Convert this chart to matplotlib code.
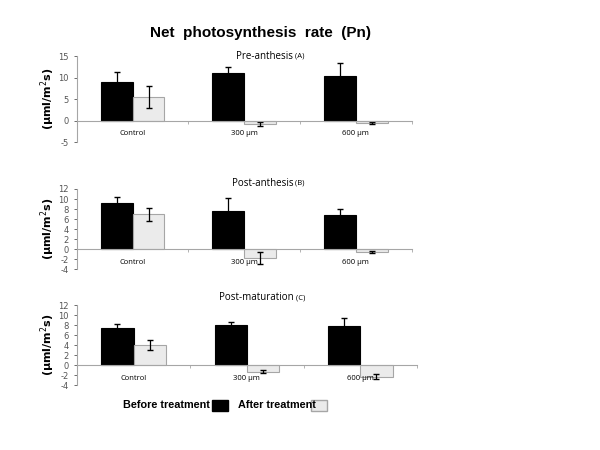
import matplotlib.pyplot as plt
import numpy as np

plt.rcParams['axes.unicode_minus'] = False

# données
categories = ["Control", "300 µm", "600 µm"]
stages = ["Pre-anthesis", "Post-anthesis", "Post-maturation"]
stage_tags = ["(A)", "(B)", "(C)"]

before_a = [9.0, 11.2, 10.4]
before_a_err = [2.3, 1.4, 3.0]
after_a = [5.5, -0.7, -0.6]
after_a_err = [2.5, 0.5, 0.2]

before_b = [9.2, 7.6, 6.8]
before_b_err = [1.3, 2.6, 1.2]
after_b = [7.0, -1.7, -0.6]
after_b_err = [1.3, 1.2, 0.2]

before_c = [7.4, 8.0, 7.8]
before_c_err = [0.8, 0.6, 1.6]
after_c = [4.0, -1.3, -2.3]
after_c_err = [1.0, 0.3, 0.5]

y_ticks_a = [-5, 0, 5, 10, 15]
y_ticks_bc = [-4, -2, 0, 2, 4, 6, 8, 10, 12]

fig = plt.figure(figsize=(6, 4.5), dpi=100)
fig.text(0.435, 0.927, "Net  photosynthesis  rate  (Pn)", ha="center", va="center",
         fontsize=11, fontweight="bold", family="Liberation Sans")

panels = [
    ([0.128, 0.684, 0.558, 0.191], before_a, before_a_err, after_a, after_a_err, y_ticks_a),
    ([0.128, 0.402, 0.558, 0.178], before_b, before_b_err, after_b, after_b_err, y_ticks_bc),
    ([0.128, 0.144, 0.567, 0.178], before_c, before_c_err, after_c, after_c_err, y_ticks_bc),
]
title_offsets = [0.0, 0.07, 0.09]

x = np.arange(len(categories))
w = 0.285
grey = "#a6a6a6"

for i, (pos, bef, bef_err, aft, aft_err, yt) in enumerate(panels):
    ax = fig.add_axes(pos)
    ax.bar(x - w / 2, bef, w, color="black", edgecolor="black", linewidth=0.8)
    ax.bar(x + w / 2, aft, w, color="#ebebeb", edgecolor=grey, linewidth=0.8)
    ax.errorbar(x - w / 2, bef, yerr=bef_err, fmt="none", ecolor="black",
                elinewidth=0.9, capsize=2)
    ax.errorbar(x + w / 2, aft, yerr=aft_err, fmt="none", ecolor="black",
                elinewidth=0.9, capsize=2)
    ax.set_xlim(-0.5, 2.5)
    ax.set_ylim(yt[0], yt[-1])
    ax.set_yticks(yt)
    ax.tick_params(axis="y", labelsize=6, colors="#555555", length=2.5, width=0.6)
    for s in ["top", "right"]:
        ax.spines[s].set_visible(False)
    ax.spines["left"].set_color(grey)
    ax.spines["left"].set_linewidth(0.8)
    ax.spines["bottom"].set_position(("data", 0))
    ax.spines["bottom"].set_color(grey)
    ax.spines["bottom"].set_linewidth(0.8)
    ax.set_xticks(x)
    ax.set_xticklabels(categories, fontsize=5.5, family="Open Sans")
    ax.set_xticks([0.5, 1.5, 2.5], minor=True)
    ax.tick_params(axis="x", which="major", length=0, pad=7)
    ax.tick_params(axis="x", which="minor", length=2.5, width=0.6, color=grey)
    ax.set_ylabel("(µml/m$^2$s)", fontsize=8, fontweight="bold", labelpad=1)
    # titre centré vers x=270 px
    tx = (270 - 600 * pos[0]) / (600 * pos[2]) + 0.07
    ty = 1.0 + title_offsets[i]
    ax.text(tx, ty, stages[i], transform=ax.transAxes,
            ha="right", va="center", fontsize=7, family="Open Sans")
    ax.text(tx, ty, " " + stage_tags[i], transform=ax.transAxes,
            ha="left", va="center", fontsize=5.5, family="Open Sans")

# légende manuelle
fig.text(0.205, 0.099, "Before treatment", fontsize=7.8, fontweight="bold",
         family="Liberation Sans", va="center")
fig.patches.append(plt.Rectangle((0.353, 0.087), 0.027, 0.024, transform=fig.transFigure,
                                 facecolor="black", edgecolor="black"))
fig.text(0.397, 0.099, "After treatment", fontsize=7.8, fontweight="bold",
         family="Liberation Sans", va="center")
fig.patches.append(plt.Rectangle((0.518, 0.087), 0.027, 0.024, transform=fig.transFigure,
                                 facecolor="#ebebeb", edgecolor=grey))

plt.savefig("out.png", dpi=100)
